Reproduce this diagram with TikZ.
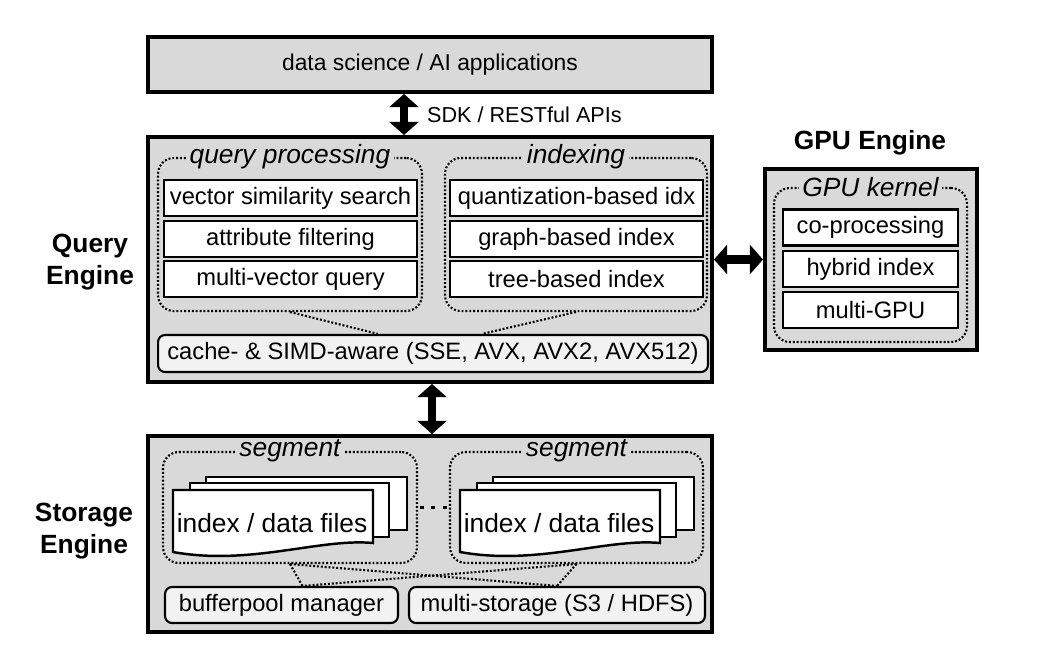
\documentclass[tikz,border=0pt]{standalone}
\usepackage{fontspec}
\setmainfont{Liberation Sans}
\usetikzlibrary{arrows.meta}
\definecolor{enginegray}{RGB}{217,217,217}
\definecolor{lightbox}{RGB}{242,242,242}

\begin{document}
\begin{tikzpicture}[x=0.02cm, y=-0.02cm,
  every node/.style = {font=\fontsize{13.5}{16}\selectfont, inner sep=1pt},
  engine/.style = {shape=rectangle, draw, line width=2.3pt, fill=enginegray},
  item/.style = {shape=rectangle, draw, line width=1.5pt, fill=white,
    minimum height=0.72cm},
  basebox/.style = {shape=rectangle, draw, line width=1.2pt, rounded corners=4pt,
    fill=lightbox, minimum height=0.74cm},
  group/.style = {shape=rectangle, draw, line width=1.2pt,
    dash pattern=on 1.1pt off 1.1pt, rounded corners=9pt},
  grouptitle/.style = {fill=enginegray, inner xsep=2pt,
    font=\fontsize{15}{18}\selectfont\itshape},
  enginename/.style = {align=center, font=\fontsize{15}{18}\selectfont\bfseries},
  link/.style = {line width=1.2pt, dash pattern=on 1.1pt off 1.1pt},
  bigarrow/.style = {line width=5pt,
    {Triangle[length=7.5pt,width=16.5pt]}-{Triangle[length=7.5pt,width=16.5pt]}},
  sheet/.style = {draw, line width=1.4pt, fill=white}]
  \useasboundingbox (0,0) rectangle (1049,666);

  \node[engine, minimum width=11.28cm, minimum height=1.1cm,
    font=\fontsize{13}{16}\selectfont] (apps) at (430,64.5)
    {data science / AI applications};

  \node[engine, minimum width=11.28cm, minimum height=4.9cm] (qe) at (430,259.5) {};
  \node[enginename] (qelabel) at (90,262) {Query\\Engine};

  \node[group, minimum width=5.28cm, minimum height=3.06cm] (qp) at (290,234.5) {};
  \node[grouptitle] (qptitle) at (qp.north) {query processing};
  \node[item, minimum width=5.06cm] (vss) at (290.5,198) {vector similarity search};
  \node[item, minimum width=5.06cm] (attr) at (290.5,239) {attribute filtering};
  \node[item, minimum width=5.06cm] (mvq) at (290.5,279) {multi-vector query};

  \node[group, minimum width=5.24cm, minimum height=3.06cm] (idx) at (576,234.5) {};
  \node[grouptitle] (idxtitle) at (idx.north) {indexing};
  \node[item, minimum width=5.06cm] (quant) at (576.5,198) {quantization-based idx};
  \node[item, minimum width=5.06cm] (graph) at (576.5,239) {graph-based index};
  \node[item, minimum width=5.06cm] (tree) at (576.5,279) {tree-based index};

  \node[basebox, minimum width=11cm] (simd) at (433,353.5)
    {cache- \& SIMD-aware (SSE, AVX, AVX2, AVX512)};
  \draw[link] (qp.south) -- ([xshift=-1.1cm]simd.north);
  \draw[link] (idx.south) -- ([xshift=0.98cm]simd.north);

  \node[enginename] (gpulabel) at (870,143) {GPU Engine};
  \node[engine, minimum width=4.24cm, minimum height=3.62cm] (gpu) at (871,259.5) {};
  \node[group, minimum width=3.86cm, minimum height=3.08cm] (kern) at (870.5,265) {};
  \node[grouptitle] (kerntitle) at (kern.north) {GPU kernel};
  \node[item, minimum width=3.5cm] (copro) at (870.5,227.5) {co-processing};
  \node[item, minimum width=3.5cm] (hybrid) at (870.5,269) {hybrid index};
  \node[item, minimum width=3.5cm] (mgpu) at (870.5,310) {multi-GPU};

  \node[engine, minimum width=11.28cm, minimum height=3.92cm] (se) at (430,534) {};
  \node[enginename] (selabel) at (84,531) {Storage\\Engine};

  \node[group, minimum width=5.08cm, minimum height=2.22cm] (segA) at (290,507.5) {};
  \node[grouptitle] (segAtitle) at (segA.north) {segment};
  \node[group, minimum width=5.06cm, minimum height=2.22cm] (segB) at (576.5,507.5) {};
  \node[grouptitle] (segBtitle) at (segB.north) {segment};

  \draw[sheet] (206,477) rectangle (407,530);
  \draw[sheet] (190,483) rectangle (389,537);
  \draw[sheet] (173,490) -- (373,490) -- (373,543)
    .. controls (320,538) and (250,566) .. (173,552) -- cycle;
  \node[font=\fontsize{15}{18}\selectfont] (filesA) at (272,523) {index / data files};

  \draw[sheet] (493,477) rectangle (694,530);
  \draw[sheet] (477,483) rectangle (676,537);
  \draw[sheet] (460,490) -- (660,490) -- (660,543)
    .. controls (607,538) and (537,566) .. (460,552) -- cycle;
  \node[font=\fontsize{15}{18}\selectfont] (filesB) at (559,523) {index / data files};

  \draw[line width=2.2pt, dash pattern=on 2.2pt off 4.3pt, dash phase=5.4pt]
    (segA.east) -- (segB.west);

  \node[basebox, minimum width=4.66cm, minimum height=0.72cm] (bufpool) at (281.5,605)
    {bufferpool manager};
  \node[basebox, minimum width=5.92cm, minimum height=0.72cm] (mstore) at (557,605)
    {multi-storage (S3 / HDFS)};
  \draw[link] (segA.south) -- ([xshift=0.42cm]bufpool.north);
  \draw[link] (segA.south) -- (mstore.north);
  \draw[link] (segB.south) -- ([xshift=0.42cm]bufpool.north);
  \draw[link] (segB.south) -- (mstore.north);

  \draw[bigarrow] ([xshift=-0.52cm]apps.south) -- ([xshift=-0.52cm]qe.north);
  \node[anchor=west, font=\fontsize{12.3}{14}\selectfont] (api) at (425,115)
    {SDK / RESTful APIs};
  \draw[bigarrow] ([xshift=0.04cm]qe.south) -- ([xshift=0.04cm]se.north);
  \draw[bigarrow] (qe.east) -- (gpu.west);
\end{tikzpicture}
\end{document}
